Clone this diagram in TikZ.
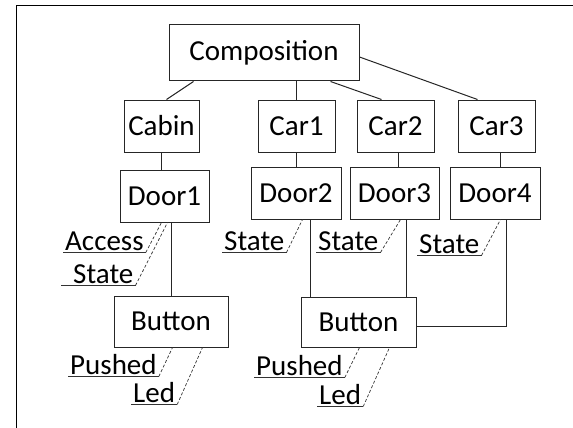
\documentclass[tikz,border=0pt]{standalone}
\usepackage{fontspec}
\setmainfont{Carlito}
\usetikzlibrary{calc}
\begin{document}
\begin{tikzpicture}[x=1pt,y=-1pt,
  box/.style={draw=black!85, line width=1pt, inner sep=0pt, font=\fontsize{29}{32}\selectfont},
  lab/.style={inner xsep=2pt, inner ysep=2pt, anchor=base west, font=\fontsize{29}{32}\selectfont},
  link/.style={draw=black!85, line width=1pt},
  uline/.style={draw=black!80, line width=1pt},
  dlink/.style={draw=black!80, line width=0.7pt, dash pattern=on 3pt off 2pt},
  frame/.style={draw=black, line width=1.6pt}]
\useasboundingbox (0,0) rectangle (573,428);
\draw[frame] (16.5,428) -- (16.5,5.5) -- (573,5.5);

\node[box, minimum width=190pt, minimum height=56pt] (comp) at (264,53) {Composition};
\node[box, minimum width=75pt, minimum height=52pt] (cabin) at (161.5,126) {Cabin};
\node[box, minimum width=77pt, minimum height=52pt] (car1) at (296.5,126) {Car1};
\node[box, minimum width=77pt, minimum height=52pt] (car2) at (395.5,126) {Car2};
\node[box, minimum width=77pt, minimum height=52pt] (car3) at (496.5,126) {Car3};
\node[box, minimum width=89pt, minimum height=52pt] (door1) at (164.5,196) {Door1};
\node[box, minimum width=90pt, minimum height=52pt] (door2) at (296,193) {Door2};
\node[box, minimum width=89pt, minimum height=52pt] (door3) at (394.5,193) {Door3};
\node[box, minimum width=90pt, minimum height=52pt] (door4) at (495,193) {Door4};
\node[box, minimum width=114pt, minimum height=51pt] (btn1) at (171,321.5) {Button};
\node[box, minimum width=115pt, minimum height=50pt] (btn2) at (358.5,322) {Button};

\coordinate (b2l) at ($(btn2.north west)+(10,0)$);
\coordinate (b2r) at ($(btn2.north east)+(-10,0)$);
\coordinate (d4s) at ($(door4.south)+(11,0)$);
\coordinate (b2e) at ($(btn2.east)+(0,4)$);

% tree connectors
\draw[link] ($(comp.south west)+(25,0)$) -- ($(cabin.north west)+(43,0)$);
\draw[link] (comp.south -| car1.north) -- (car1.north);
\draw[link] ($(comp.south west)+(162,0)$) -- ($(car2.north west)+(25,0)$);
\draw[link] ($(comp.east)+(0,4)$) -- ($(car3.north west)+(20,0)$);
\draw[link] (cabin.south) -- (cabin.south |- door1.north);
\draw[link] (car1.south) -- (car1.south |- door2.north);
\draw[link] ($(car2.south)+(2.5,0)$) -- ($(car2.south |- door3.north)+(2.5,0)$);
\draw[link] ($(car3.south)+(3.5,0)$) -- ($(car3.south |- door4.north)+(3.5,0)$);
\draw[link] (door1.south -| btn1.north) -- (btn1.north);
\draw[link] (b2l |- door2.south) -- (b2l);
\draw[link] (b2r |- door3.south) -- (b2r);
\draw[link] (d4s) |- (b2e);

% attribute labels
\node[lab] (l1) at (63,250) {Access};
\node[lab] (l2) at (71,283) {State};
\node[lab] (l3) at (222,250) {State};
\node[lab] (l4) at (316,250) {State};
\node[lab] (l5) at (417,253) {State};
\node[lab] (l6) at (68,374) {Pushed};
\node[lab] (l7) at (131,402) {Led};
\node[lab] (l8) at (254,375) {Pushed};
\node[lab] (l9) at (317,404) {Led};

\draw[uline] (l1.south west) -- (l1.south east);
\draw[uline] ($(l2.south west)+(-10,0)$) -- (l2.south east);
\foreach \l in {l3,l4,l5,l6,l7,l8,l9} \draw[uline] (\l.south west) -- (\l.south east);

\draw[dlink] (l1.south east) -- ($(door1.south west)+(42,0)$);
\draw[dlink] (l2.south east) -- ($(door1.south west)+(48,0)$);
\draw[dlink] (l3.south east) -- ($(door2.south west)+(52,0)$);
\draw[dlink] (l4.south east) -- ($(door3.south west)+(51,0)$);
\draw[dlink] (l5.south east) -- ($(door4.south west)+(51,0)$);
\draw[dlink] (l6.south east) -- ($(btn1.south west)+(59,0)$);
\draw[dlink] (l7.south east) -- ($(btn1.south west)+(89,0)$);
\draw[dlink] (l8.south east) -- ($(btn2.south west)+(59,0)$);
\draw[dlink] (l9.south east) -- ($(btn2.south west)+(89,0)$);
\end{tikzpicture}
\end{document}
